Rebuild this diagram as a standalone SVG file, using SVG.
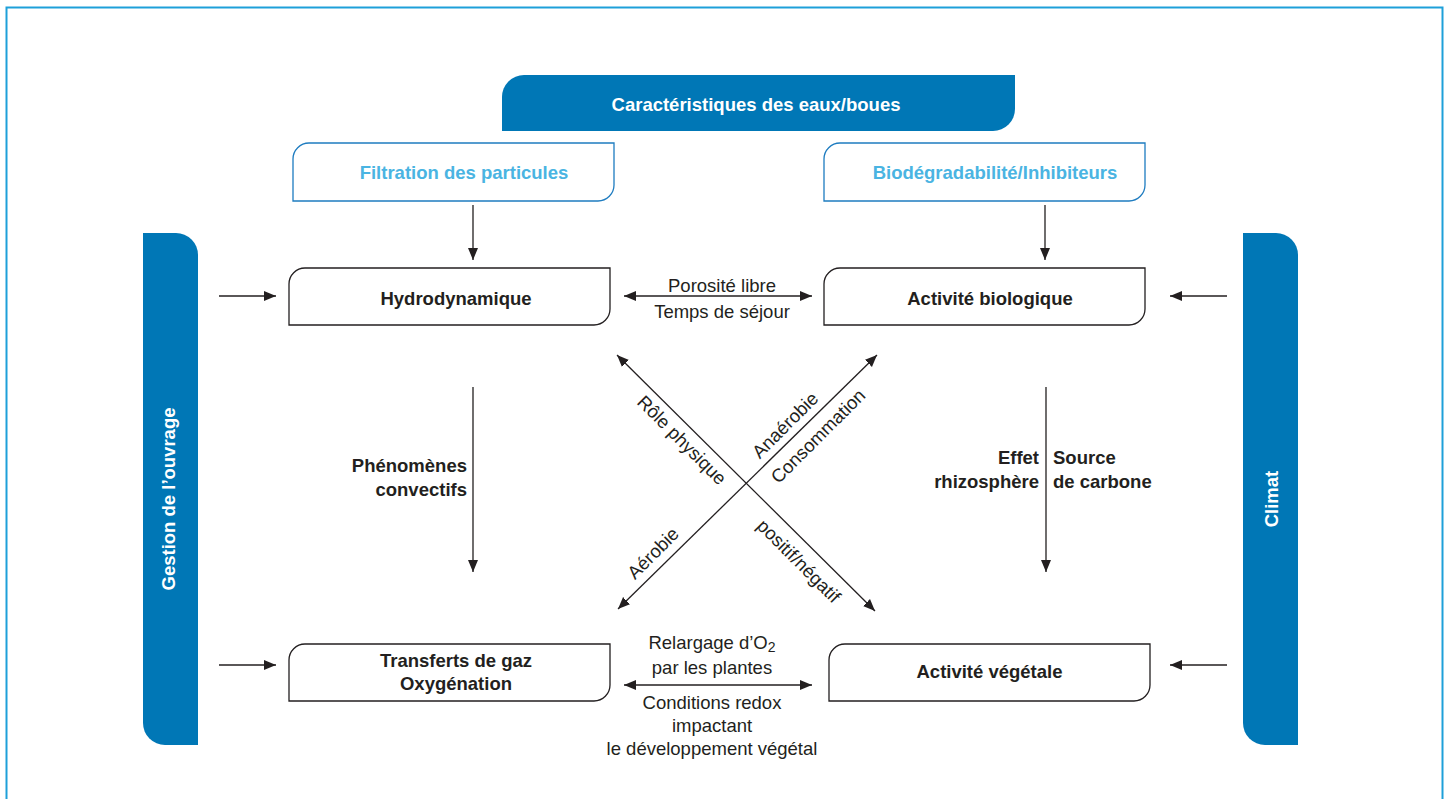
<svg xmlns="http://www.w3.org/2000/svg" width="1451" height="799" viewBox="0 0 1451 799">
<style>
text{font-family:"Liberation Sans",Arial,sans-serif;font-size:18.5px;fill:#231f20;dominant-baseline:central}
.b{font-weight:bold}
.m{text-anchor:middle}
.e{text-anchor:end}
.w{fill:#ffffff;font-weight:bold;text-anchor:middle}
.lb{fill:#4ab4e2;font-weight:bold;text-anchor:middle}
.bar{fill:#0077b6}
.box{fill:#ffffff;stroke:#231f20;stroke-width:1.3}
.box2{fill:#ffffff;stroke:#1e7cc0;stroke-width:1.3}
.c{stroke:#231f20;stroke-width:1.3;fill:none;marker-end:url(#ah)}
.d{stroke:#231f20;stroke-width:1.3;fill:none;marker-end:url(#ah);marker-start:url(#ah)}
</style>
<defs>
<marker id="ah" markerUnits="userSpaceOnUse" markerWidth="13" markerHeight="11" refX="12" refY="5" orient="auto-start-reverse">
<path d="M0,0 L12,5 L0,10 z" fill="#231f20"/>
</marker>
</defs>
<rect x="6.5" y="7.5" width="1436" height="900" fill="none" stroke="#1ea0d9" stroke-width="2"/>

<g id="header">
<path class="bar" d="M524,75 H1015 V109 A22,22 0 0 1 993,131 H502 V97 A22,22 0 0 1 524,75 Z"/>
<text class="w" x="756" y="104">Caractéristiques des eaux/boues</text>
</g>

<g id="filtration">
<path class="box2" d="M309,143 H614 V185 A16,16 0 0 1 598,201 H293 V159 A16,16 0 0 1 309,143 Z"/>
<text class="lb" x="464" y="172">Filtration des particules</text>
</g>

<g id="biodeg">
<path class="box2" d="M840,143 H1145 V185 A16,16 0 0 1 1129,201 H824 V159 A16,16 0 0 1 840,143 Z"/>
<text class="lb" x="995" y="172">Biodégradabilité/Inhibiteurs</text>
</g>

<g id="gestion">
<path class="bar" d="M143,233 H176 A22,22 0 0 1 198,255 V745 H165 A22,22 0 0 1 143,723 Z"/>
<text class="w" transform="translate(168,499) rotate(-90)" x="0" y="0">Gestion de l’ouvrage</text>
</g>

<g id="climat">
<path class="bar" d="M1243,233 H1276 A22,22 0 0 1 1298,255 V745 H1265 A22,22 0 0 1 1243,723 Z"/>
<text class="w" transform="translate(1271,499) rotate(-90)" x="0" y="0">Climat</text>
</g>

<g id="hydro">
<path class="box" d="M305,268 H610 V309 A16,16 0 0 1 594,325 H289 V284 A16,16 0 0 1 305,268 Z"/>
<text class="b m" x="456" y="298">Hydrodynamique</text>
</g>

<g id="actbio">
<path class="box" d="M840,268 H1145 V309 A16,16 0 0 1 1129,325 H824 V284 A16,16 0 0 1 840,268 Z"/>
<text class="b m" x="990" y="298">Activité biologique</text>
</g>

<g id="transferts">
<path class="box" d="M305,644 H610 V685 A16,16 0 0 1 594,701 H289 V660 A16,16 0 0 1 305,644 Z"/>
<text class="b m" x="456" y="660">Transferts de gaz</text>
<text class="b m" x="456" y="683">Oxygénation</text>
</g>

<g id="actveg">
<path class="box" d="M845,644 H1150 V685 A16,16 0 0 1 1134,701 H829 V660 A16,16 0 0 1 845,644 Z"/>
<text class="b m" x="989.5" y="671">Activité végétale</text>
</g>

<g id="connectors">
<line class="c" x1="473" y1="205" x2="473" y2="260"/>
<line class="c" x1="1045" y1="205" x2="1045" y2="260"/>
<line class="c" x1="219" y1="296" x2="276" y2="296"/>
<line class="c" x1="219" y1="665" x2="276" y2="665"/>
<line class="c" x1="1227" y1="296" x2="1170" y2="296"/>
<line class="c" x1="1227" y1="665" x2="1170" y2="665"/>
<line class="d" x1="624" y1="296" x2="812" y2="296"/>
<line class="d" x1="624" y1="685" x2="812" y2="685"/>
<line class="c" x1="473" y1="387" x2="473" y2="572"/>
<line class="c" x1="1046" y1="387" x2="1046" y2="572"/>
<line class="d" x1="617" y1="355" x2="875" y2="611"/>
<line class="d" x1="618" y1="609" x2="877" y2="355"/>
</g>

<g id="labels">
<text class="m" x="722" y="285">Porosité libre</text>
<text class="m" x="722" y="311">Temps de séjour</text>
<text class="m" x="712" y="642">Relargage d’O<tspan dy="5" font-size="14">2</tspan></text>
<text class="m" x="712" y="667">par les plantes</text>
<text class="m" x="712" y="702">Conditions redox</text>
<text class="m" x="712" y="725">impactant</text>
<text class="m" x="712" y="748">le développement végétal</text>
<text class="b e" x="467" y="465">Phénomènes</text>
<text class="b e" x="467" y="489">convectifs</text>
<text class="b e" x="1039" y="457">Effet</text>
<text class="b e" x="1039" y="481">rhizosphère</text>
<text class="b" x="1053" y="457">Source</text>
<text class="b" x="1053" y="481">de carbone</text>
<text class="m" transform="translate(682,440) rotate(45)">Rôle physique</text>
<text class="m" transform="translate(799,561) rotate(45)">positif/négatif</text>
<text class="m" transform="translate(785,425) rotate(-45)">Anaérobie</text>
<text class="m" transform="translate(818,436) rotate(-45)">Consommation</text>
<text class="m" transform="translate(653,553) rotate(-45)">Aérobie</text>
</g>
</svg>
